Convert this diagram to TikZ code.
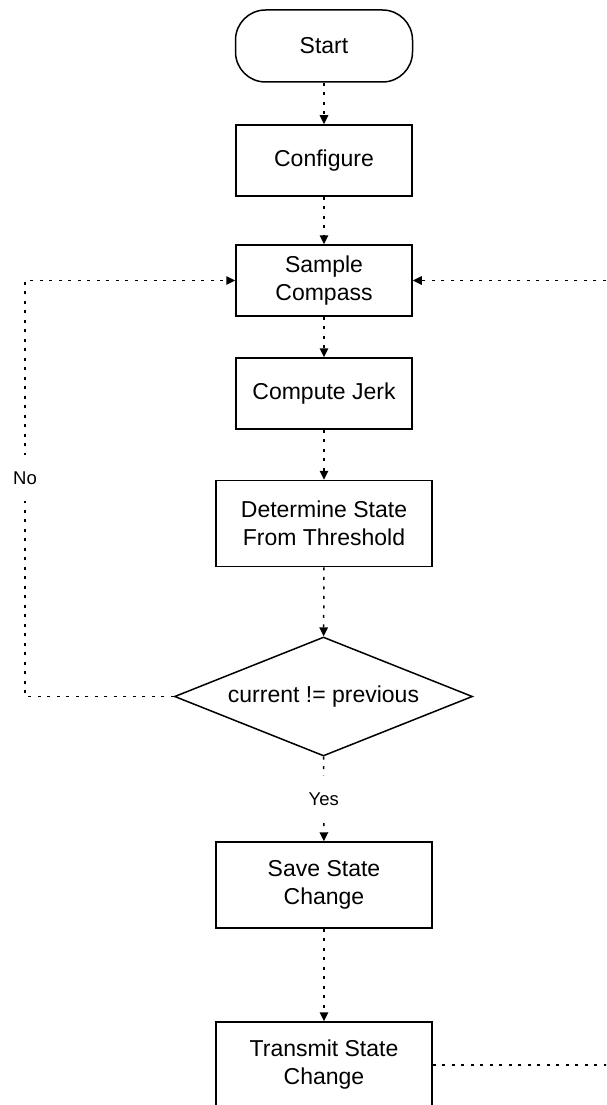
\documentclass[tikz,border=0pt]{standalone}
\usepackage{fontspec}
\setmainfont{Liberation Sans}
\usetikzlibrary{arrows.meta,shapes.geometric}
\begin{document}
\begin{tikzpicture}[x=1pt,y=-1pt,
  every node/.style={font=\fontsize{23}{28}\selectfont, align=center, inner sep=0pt},
  box/.style={draw, line width=1.5pt, minimum width=176pt, minimum height=71pt},
  widebox/.style={box, minimum width=216pt, minimum height=86pt},
  terminal/.style={box, rounded corners=30pt, minimum width=177pt, minimum height=72pt},
  decision/.style={draw, diamond, aspect=2.5, line width=1.5pt, minimum width=298pt, minimum height=119pt},
  flow/.style={line width=1.5pt, dash pattern=on 3pt off 6.5pt, -{Triangle[length=9pt,width=8.5pt]}},
  lbl/.style={fill=white, font=\fontsize{18.5}{22}\selectfont, minimum height=46pt, minimum width=30pt}
]
\clip (0,0) rectangle (606,1105);

% process steps
\node[terminal] (start)     at (324,46)    {Start};
\node[box]      (configure) at (324,160.5) {Configure};
\node[box]      (sample)    at (324,280.5) {Sample\\Compass};
\node[box]      (jerk)      at (324,393.5) {Compute Jerk};
\node[widebox]  (determine) at (324,523.5) {Determine State\\From Threshold};
\node[decision] (change)    at (323.5,696.5) {current != previous};
\node[widebox]  (save)      at (324,885)   {Save State\\Change};
\node[widebox]  (transmit)  at (324,1065)  {Transmit State\\Change};

% x positions of the two loop-back lines
\coordinate (loopx) at (25,0);
\coordinate (retx)  at (640,0);

% main flow
\draw[flow] (start) -- (configure);
\draw[flow] (configure) -- (sample);
\draw[flow] (sample) -- (jerk);
\draw[flow] (jerk) -- (determine);
\draw[flow] (determine) -- (change);
\draw[flow] (change) -- node[lbl]{Yes} (save);
\draw[flow] (save) -- (transmit);

% loop back when the state is unchanged
\draw[flow] (change.west) -- (change.west -| loopx)
  -- node[lbl, pos=0.525]{No} (sample.west -| loopx) -- (sample.west);

% loop back after transmitting
\draw[flow] (transmit.east) -- (transmit.east -| retx)
  -- (sample.east -| retx) -- (sample.east);
\end{tikzpicture}
\end{document}
